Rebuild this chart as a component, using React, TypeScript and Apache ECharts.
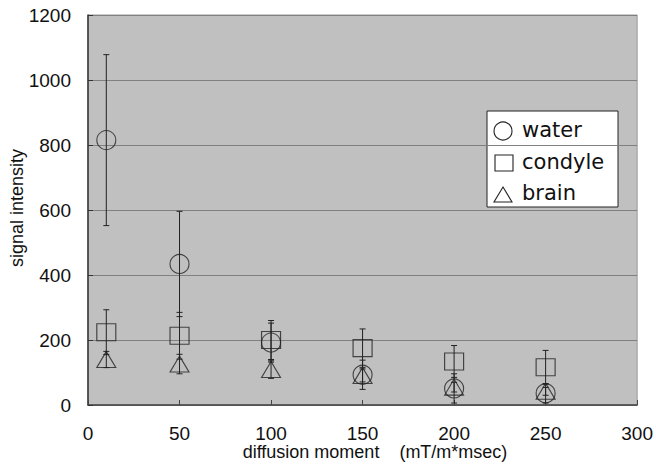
import React, { useEffect, useRef } from "react";
import * as echarts from "echarts";

const xValues = [10, 50, 100, 150, 200, 250];
const waterValues = [815, 434, 192, 93, 51, 36];
const waterErrors = [263, 162, 60, 45, 45, 30];
const condyleValues = [224, 213, 200, 175, 134, 116];
const condyleErrors = [69, 72, 60, 59, 49, 52];
const brainValues = [140, 126, 109, 91, 55, 42];
const brainErrors = [25, 30, 27, 20, 15, 12];
const legendLabels = ["water", "condyle", "brain"];
const xTitle = "diffusion moment    (mT/m*msec)";
const yTitle = "signal intensity";

const FONT = "'Liberation Sans', Arial, Helvetica, sans-serif";
const LEGEND_FONT = "'DejaVu Sans', 'Liberation Sans', sans-serif";
const INK = "#222";

function errorSeries(name: string, vals: number[], errs: number[]) {
  return {
    type: "custom",
    name: name + "-err",
    silent: true,
    z: 3,
    data: xValues.map((x, i) => [x, vals[i] - errs[i], vals[i] + errs[i]]),
    renderItem: (_params: any, api: any) => {
      const lo = api.coord([api.value(0), api.value(1)]);
      const hi = api.coord([api.value(0), api.value(2)]);
      const cap = 3;
      const style = { stroke: INK, lineWidth: 1 };
      return {
        type: "group",
        children: [
          { type: "line", shape: { x1: lo[0], y1: lo[1], x2: hi[0], y2: hi[1] }, style },
          { type: "line", shape: { x1: lo[0] - cap, y1: lo[1], x2: lo[0] + cap, y2: lo[1] }, style },
          { type: "line", shape: { x1: hi[0] - cap, y1: hi[1], x2: hi[0] + cap, y2: hi[1] }, style },
        ],
      };
    },
  };
}

function markerSeries(name: string, vals: number[], symbol: string, size: any) {
  return {
    type: "scatter",
    name,
    symbol,
    symbolSize: size,
    z: 4,
    data: xValues.map((x, i) => [x, vals[i]]),
    itemStyle: { color: "rgba(0,0,0,0)", borderColor: INK, borderWidth: 1.1 },
  };
}

export default function App() {
  const ref = useRef<HTMLDivElement>(null);
  useEffect(() => {
    if (!ref.current) return;
    const chart = echarts.init(ref.current, undefined, { renderer: "svg" });
    chart.setOption({
      animation: false,
      backgroundColor: "#ffffff",
      grid: {
        left: 88,
        right: 17,
        top: 15,
        bottom: 59,
        show: true,
        backgroundColor: "#c0c0c0",
        borderColor: "#9a9a9a",
        borderWidth: 1,
      },
      xAxis: {
        type: "value",
        min: 0,
        max: 300,
        interval: 50,
        axisLine: { show: true, lineStyle: { color: "#444", width: 1.5 } },
        axisTick: { show: true, inside: true, length: 5, lineStyle: { color: "#444" } },
        axisLabel: { color: "#111", fontSize: 19, fontFamily: FONT, margin: 19 },
        splitLine: { show: false },
      },
      yAxis: {
        type: "value",
        min: 0,
        max: 1200,
        interval: 200,
        axisLine: { show: true, lineStyle: { color: "#333", width: 1.5 } },
        axisTick: { show: true, inside: true, length: 5, lineStyle: { color: "#333" } },
        axisLabel: {
          color: "#111",
          fontSize: 19,
          fontFamily: FONT,
          margin: 17,
          formatter: (v: number) => String(v),
        },
        splitLine: { show: true, lineStyle: { color: "#808080", width: 1 } },
      },
      graphic: [
        {
          type: "text",
          x: 375,
          y: 452,
          style: {
            text: xTitle,
            fontSize: 18,
            fontFamily: FONT,
            fill: "#111",
            align: "center",
            verticalAlign: "middle",
          },
        },
        {
          type: "text",
          x: 17,
          y: 208,
          rotation: Math.PI / 2,
          style: {
            text: yTitle,
            fontSize: 18,
            fontFamily: FONT,
            fill: "#111",
            align: "center",
            verticalAlign: "middle",
          },
        },
        {
          type: "group",
          z: 100,
          children: [
            {
              type: "rect",
              shape: { x: 487, y: 111, width: 131, height: 96 },
              style: { fill: "#ffffff", stroke: INK, lineWidth: 1 },
            },
            {
              type: "circle",
              shape: { cx: 503, cy: 131, r: 9 },
              style: { fill: "none", stroke: INK, lineWidth: 1.1 },
            },
            {
              type: "rect",
              shape: { x: 495, y: 155, width: 18, height: 16 },
              style: { fill: "none", stroke: INK, lineWidth: 1.1 },
            },
            {
              type: "polygon",
              shape: { points: [[503, 187], [512, 202], [494, 202]] },
              style: { fill: "none", stroke: INK, lineWidth: 1.1 },
            },
            ...legendLabels.map((t, i) => ({
              type: "text",
              x: 522,
              y: [130, 162, 193][i],
              style: {
                text: t,
                fontSize: 21,
                fontFamily: LEGEND_FONT,
                fill: "#111",
                align: "left",
                verticalAlign: "middle",
              },
            })),
          ],
        },
      ],
      series: [
        errorSeries("water", waterValues, waterErrors),
        errorSeries("condyle", condyleValues, condyleErrors),
        errorSeries("brain", brainValues, brainErrors),
        markerSeries("water", waterValues, "circle", 19),
        markerSeries("condyle", condyleValues, "rect", [19, 17]),
        markerSeries("brain", brainValues, "triangle", [19, 16]),
      ],
    });
    return () => chart.dispose();
  }, []);
  return <div ref={ref} style={{ width: 656, height: 464, position: "absolute", left: 0, top: 0 }} />;
}
